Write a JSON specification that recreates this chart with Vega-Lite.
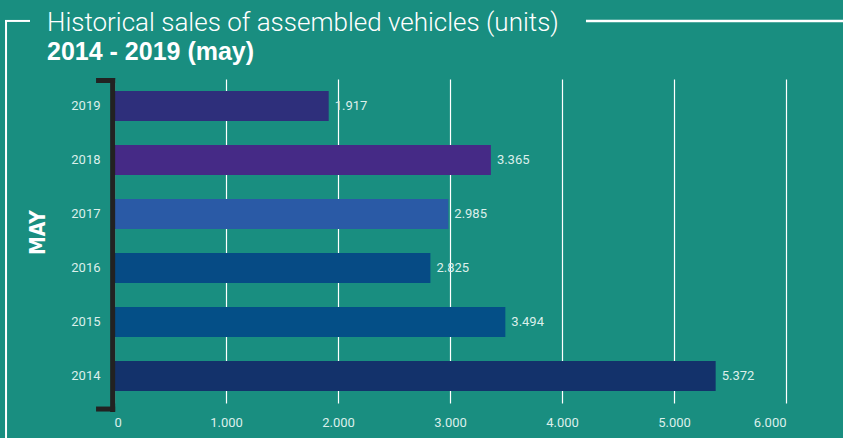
{
  "$schema": "https://vega.github.io/schema/vega-lite/v6.json",
  "width": 672,
  "height": 324,
  "autosize": "none",
  "padding": {"left": 114, "top": 79, "right": 57, "bottom": 35},
  "background": "#198e80",
  "title": {
    "text": "Historical sales of assembled vehicles (units)",
    "subtitle": "2014 - 2019 (may)",
    "anchor": "start",
    "frame": "group",
    "dx": -67,
    "dy": 57,
    "offset": 12,
    "font": "Roboto",
    "fontSize": 26,
    "fontWeight": 300,
    "color": "#ffffff",
    "subtitleFont": "Liberation Sans",
    "subtitleFontSize": 25,
    "subtitleFontWeight": "bold",
    "subtitleColor": "#ffffff",
    "subtitlePadding": 4
  },
  "config": {
    "view": {"stroke": null},
    "locale": {"number": {"decimal": ",", "thousands": ".", "grouping": [3], "currency": ["", ""]}}
  },
  "data": {
    "values": [
      {"year": 2019, "units": 1917},
      {"year": 2018, "units": 3365},
      {"year": 2017, "units": 2985},
      {"year": 2016, "units": 2825},
      {"year": 2015, "units": 3494},
      {"year": 2014, "units": 5372}
    ]
  },
  "encoding": {
    "y": {
      "field": "year",
      "type": "ordinal",
      "sort": "descending",
      "scale": {"paddingInner": 0.444, "paddingOuter": 0.222},
      "axis": {
        "title": "MAY",
        "titleFont": "Liberation Sans Narrow, DejaVu Sans Condensed, Roboto",
        "titleFontSize": 21,
        "titleFontWeight": "bold",
        "titleColor": "#ffffff",
        "titleAngle": 270,
        "titleAlign": "center",
        "titleBaseline": "middle",
        "titleX": -76,
        "titleY": 153,
        "domain": false,
        "ticks": false,
        "labelPadding": 14,
        "labelFont": "Roboto",
        "labelFontSize": 13,
        "labelColor": "#dcefeb",
        "grid": false
      }
    }
  },
  "layer": [
    {
      "mark": {"type": "bar"},
      "encoding": {
        "x": {
          "field": "units",
          "type": "quantitative",
          "scale": {"domain": [0, 6000], "nice": false},
          "axis": {
            "title": null,
            "values": [0, 1000, 2000, 3000, 4000, 5000, 6000],
            "format": ",d",
            "domain": false,
            "ticks": false,
            "grid": true,
            "gridColor": "#ffffff",
            "gridWidth": 1.2,
            "gridOpacity": 1,
            "labelPadding": 13,
            "labelFont": "Roboto",
            "labelFontSize": 13,
            "labelColor": "#dcefeb"
          }
        },
        "color": {
          "field": "year",
          "type": "nominal",
          "legend": null,
          "scale": {
            "domain": [2019, 2018, 2017, 2016, 2015, 2014],
            "range": ["#2e2f7b", "#452a86", "#2a5aa6", "#064b85", "#044f87", "#13326b"]
          }
        }
      }
    },
    {
      "mark": {"type": "text", "align": "left", "baseline": "middle", "dx": 6, "font": "Roboto", "fontSize": 13, "color": "#dcefeb"},
      "encoding": {
        "x": {"field": "units", "type": "quantitative"},
        "text": {"field": "units", "type": "quantitative", "format": ",d"}
      }
    },
    {
      "data": {"values": [{}]},
      "mark": {"type": "rule", "color": "#222222", "strokeWidth": 5, "strokeCap": "square"},
      "encoding": {
        "x": {"datum": -12, "type": "quantitative"},
        "y": {"datum": 2019, "type": "ordinal", "bandPosition": -0.35},
        "y2": {"datum": 2014, "bandPosition": 1.617}
      }
    },
    {
      "data": {"values": [{}]},
      "mark": {"type": "rule", "color": "#222222", "strokeWidth": 5, "strokeCap": "square"},
      "encoding": {
        "x": {"datum": -138, "type": "quantitative"},
        "x2": {"datum": -12},
        "y": {"datum": 2019, "type": "ordinal", "bandPosition": -0.35}
      }
    },
    {
      "data": {"values": [{}]},
      "mark": {"type": "rule", "color": "#222222", "strokeWidth": 5, "strokeCap": "square"},
      "encoding": {
        "x": {"datum": -138, "type": "quantitative"},
        "x2": {"datum": -12},
        "y": {"datum": 2014, "type": "ordinal", "bandPosition": 1.6}
      }
    },
    {
      "data": {"values": [{}]},
      "mark": {"type": "rule", "color": "#ffffff", "strokeWidth": 2, "strokeCap": "square"},
      "encoding": {
        "x": {"datum": -964, "type": "quantitative"},
        "y": {"datum": 2019, "type": "ordinal", "bandPosition": -2.333},
        "y2": {"datum": 2014, "bandPosition": 2.9}
      }
    },
    {
      "data": {"values": [{}]},
      "mark": {"type": "rule", "color": "#ffffff", "strokeWidth": 2, "strokeCap": "square"},
      "encoding": {
        "x": {"datum": -964, "type": "quantitative"},
        "x2": {"datum": -759},
        "y": {"datum": 2019, "type": "ordinal", "bandPosition": -2.333}
      }
    },
    {
      "data": {"values": [{}]},
      "mark": {"type": "rule", "color": "#ffffff", "strokeWidth": 2.5},
      "encoding": {
        "x": {"datum": 4214, "type": "quantitative"},
        "x2": {"datum": 6600},
        "y": {"datum": 2019, "type": "ordinal", "bandPosition": -2.333}
      }
    }
  ]
}
